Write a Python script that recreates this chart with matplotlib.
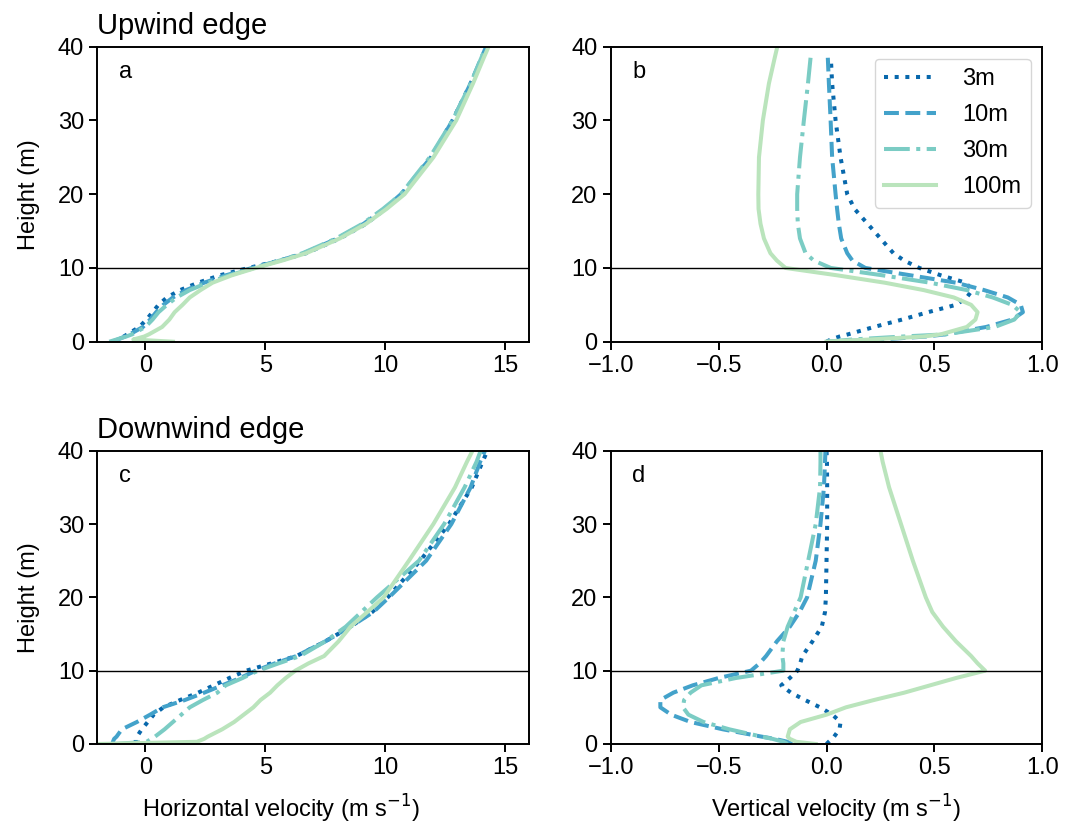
import matplotlib
matplotlib.use("Agg")
import matplotlib.pyplot as plt
import numpy as np

plt.rcParams["font.family"] = ["Liberation Sans", "DejaVu Sans"]
plt.rcParams["font.size"] = 17

# heights (m) shared by every profile
z = [0, 0.3, 0.7, 1, 2, 3, 4, 5, 6, 7, 8, 9, 10, 11, 12, 14, 16, 18, 20, 25, 30, 35, 38.5, 40]

labels = ["3m", "10m", "30m", "100m"]
colors = ["#0868ac", "#43a2ca", "#7bccc4", "#bae4bc"]
styles = [":", "--", "-.", "-"]

# upwind edge, horizontal velocity (m/s)
u_up_3 = [-1.3, -1.1, -0.9, -0.75, -0.25, 0.05, 0.3, 0.55, 0.9, 1.45, 2.2, 3.1, 4.3, 5.6, 6.7, 8.1, 9.2, 10.0, 10.7, 11.9, 12.8, 13.55, 14.05, 14.25]
u_up_10 = [-1.4, -1.15, -0.85, -0.65, -0.1, 0.2, 0.45, 0.75, 1.15, 1.7, 2.45, 3.35, 4.45, 5.6, 6.6, 8.0, 9.1, 9.95, 10.65, 11.9, 12.8, 13.55, 14.0, 14.2]
u_up_30 = [-1.5, -1.2, -0.8, -0.55, 0.0, 0.3, 0.55, 0.9, 1.3, 1.85, 2.6, 3.5, 4.55, 5.6, 6.55, 7.95, 9.05, 9.9, 10.65, 11.85, 12.8, 13.55, 14.0, 14.2]
u_up_100 = [1.15, -0.5, -0.05, 0.15, 0.7, 1.0, 1.22, 1.55, 1.85, 2.3, 2.8, 3.6, 4.6, 5.7, 6.7, 8.1, 9.2, 10.05, 10.8, 12.0, 12.95, 13.65, 14.1, 14.3]

# upwind edge, vertical velocity (m/s)
w_up_3 = [0.0, 0.02, 0.06, 0.1, 0.22, 0.35, 0.47, 0.6, 0.65, 0.675, 0.645, 0.53, 0.43, 0.36, 0.31, 0.25, 0.19, 0.13, 0.096, 0.065, 0.042, 0.026, 0.02, np.nan]
w_up_10 = [0.0, 0.25, 0.46, 0.55, 0.74, 0.86, 0.91, 0.9, 0.84, 0.73, 0.6, 0.39, 0.18, 0.12, 0.096, 0.068, 0.057, 0.049, 0.042, 0.026, 0.019, 0.011, 0.006, np.nan]
w_up_30 = [0.0, 0.12, 0.35, 0.55, 0.78, 0.87, 0.9, 0.86, 0.77, 0.65, 0.48, 0.26, 0.02, -0.059, -0.097, -0.123, -0.133, -0.136, -0.136, -0.123, -0.105, -0.086, -0.074, np.nan]
w_up_100 = [0.0, 0.2, 0.45, 0.53, 0.65, 0.69, 0.7, 0.67, 0.59, 0.45, 0.27, 0.05, -0.19, -0.23, -0.26, -0.29, -0.306, -0.315, -0.316, -0.313, -0.295, -0.267, -0.24, -0.228]

# downwind edge, horizontal velocity (m/s)
u_dn_3 = [-0.4, -0.4, -0.4, -0.35, -0.15, 0.1, 0.35, 0.75, 1.45, 2.2, 2.85, 3.5, 4.2, 5.26, 6.3, 7.5, 8.55, 9.45, 10.1, 11.45, 12.65, 13.6, 14.05, 14.25]
u_dn_10 = [-1.35, -1.35, -1.3, -1.2, -0.98, -0.35, 0.2, 0.72, 1.65, 2.45, 3.2, 3.95, 4.6, 5.4, 6.3, 7.5, 8.55, 9.5, 10.15, 11.7, 12.75, 13.55, 13.95, 14.15]
u_dn_30 = [-1.3, 0.05, 0.25, 0.4, 0.8, 1.15, 1.5, 1.85, 2.4, 3.0, 3.35, 4.05, 4.7, 5.55, 6.45, 7.5, 8.35, 9.0, 9.65, 11.4, 12.45, 13.3, 13.8, 13.97]
u_dn_100 = [-2.0, 2.15, 2.45, 2.6, 3.2, 3.7, 4.1, 4.5, 4.8, 5.2, 5.5, 5.85, 6.25, 6.8, 7.45, 8.05, 8.55, 9.25, 9.93, 10.98, 12.0, 12.9, 13.4, 13.63]

# downwind edge, vertical velocity (m/s)
w_dn_3 = [0.0, 0.01, 0.025, 0.035, 0.06, 0.065, 0.027, -0.03, -0.1, -0.165, -0.21, -0.17, -0.135, -0.122, -0.112, -0.065, -0.022, -0.007, -0.003, 0.0, 0.003, 0.003, 0.002, 0.0]
w_dn_10 = [-0.16, -0.18, -0.24, -0.3, -0.48, -0.63, -0.72, -0.77, -0.77, -0.71, -0.62, -0.5, -0.35, -0.31, -0.28, -0.23, -0.17, -0.125, -0.09, -0.05, -0.028, -0.012, -0.007, -0.005]
w_dn_30 = [-0.18, -0.2, -0.25, -0.3, -0.45, -0.57, -0.64, -0.665, -0.66, -0.63, -0.58, -0.42, -0.2, -0.2, -0.205, -0.2, -0.18, -0.15, -0.12, -0.085, -0.05, -0.03, -0.028, -0.028]
w_dn_100 = [-0.05, -0.14, -0.17, -0.18, -0.17, -0.12, 0.0, 0.09, 0.22, 0.36, 0.48, 0.6, 0.735, 0.7, 0.67, 0.6, 0.54, 0.49, 0.46, 0.4, 0.345, 0.29, 0.26, 0.25]

panels = [
    ("a", [u_up_3, u_up_10, u_up_30, u_up_100]),
    ("b", [w_up_3, w_up_10, w_up_30, w_up_100]),
    ("c", [u_dn_3, u_dn_10, u_dn_30, u_dn_100]),
    ("d", [w_dn_3, w_dn_10, w_dn_30, w_dn_100]),
]

fig = plt.figure(figsize=(10.66, 8.31), dpi=100)
rects = [
    [0.0913, 0.5888, 0.4053, 0.3550],
    [0.5729, 0.5888, 0.4049, 0.3550],
    [0.0913, 0.1047, 0.4053, 0.3529],
    [0.5729, 0.1047, 0.4049, 0.3529],
]

axes = []
for rect, (letter, series) in zip(rects, panels):
    ax = fig.add_axes(rect)
    for vals, lab, col, ls in zip(series, labels, colors, styles):
        ax.plot(vals, z, ls=ls, color=col, lw=2.9, label=lab)
    ax.axhline(10, color="black", lw=1.0)
    ax.set_ylim(0, 40)
    ax.set_yticks([0, 10, 20, 30, 40])
    ax.text(0.05, 0.915, letter, transform=ax.transAxes, ha="left", va="center", fontsize=17)
    for sp in ax.spines.values():
        sp.set_linewidth(1.4)
    ax.tick_params(width=1.4, length=6, labelsize=17)
    axes.append(ax)

for ax in (axes[0], axes[2]):
    ax.set_xlim(-2, 16)
    ax.set_xticks([0, 5, 10, 15])
    ax.set_ylabel("Height (m)", fontsize=17, labelpad=13)
for ax in (axes[1], axes[3]):
    ax.set_xlim(-1, 1)
    ax.set_xticks([-1.0, -0.5, 0.0, 0.5, 1.0])

axes[0].set_title("Upwind edge", loc="left", fontsize=21, pad=9)
axes[2].set_title("Downwind edge", loc="left", fontsize=21, pad=9)
fig.text(0.2636, 0.027, "Horizontal velocity (m s$^{-1}$)", ha="center", va="center", fontsize=17)
fig.text(0.784, 0.027, "Vertical velocity (m s$^{-1}$)", ha="center", va="center", fontsize=17)

axes[1].legend(loc="upper right", fontsize=17, handlelength=2.2, handletextpad=1.1,
               labelspacing=0.6)

fig.savefig("out.png", dpi=100)
